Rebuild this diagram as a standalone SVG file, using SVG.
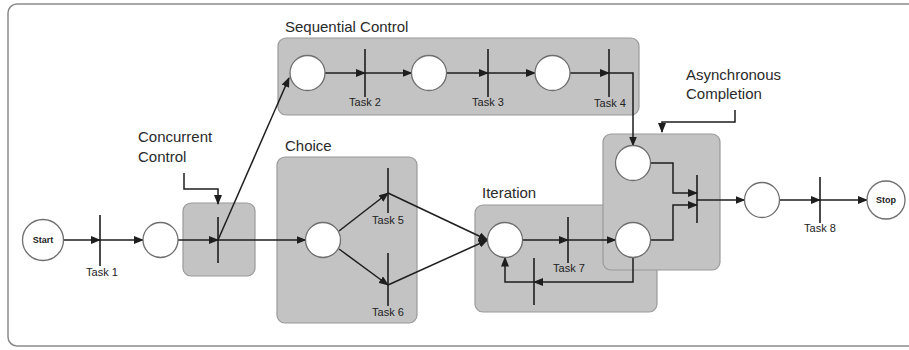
<svg xmlns="http://www.w3.org/2000/svg" width="909" height="350" viewBox="0 0 909 350">
  <style>
    .frame { fill: #ffffff; stroke: #8a8a8a; stroke-width: 1.5; }
    .region { fill: #c3c3c3; stroke: #9a9a9a; stroke-width: 1.2; }
    .place { fill: #ffffff; stroke: #6e6e6e; stroke-width: 1.3; }
    .bar { stroke: #1e1e1e; stroke-width: 1.6; fill: none; }
    .edge { stroke: #1e1e1e; stroke-width: 1.5; fill: none; }
    .title { font-family: "Liberation Sans", Arial, sans-serif; font-size: 15px; fill: #2a2a2a; }
    .task { font-family: "Liberation Sans", Arial, sans-serif; font-size: 11px; fill: #222222; text-anchor: middle; }
    .term { font-family: "Liberation Sans", Arial, sans-serif; font-size: 9px; font-weight: bold; fill: #222222; text-anchor: middle; }
  </style>
  <defs>
    <marker id="arrow" markerWidth="10" markerHeight="8" refX="9" refY="4" orient="auto" markerUnits="userSpaceOnUse">
      <path d="M0,0 L10,4 L0,8 Z" fill="#1e1e1e"/>
    </marker>
  </defs>

  <!-- outer frame -->
  <rect class="frame" x="8" y="4" width="930" height="342" rx="9"/>

  <!-- control regions -->
  <g id="region-concurrent">
    <rect class="region" x="183" y="203" width="72" height="73" rx="8"/>
  </g>
  <g id="region-sequential">
    <rect class="region" x="278" y="38" width="361" height="77" rx="8"/>
    <text class="title" x="285" y="32">Sequential Control</text>
  </g>
  <g id="region-choice">
    <rect class="region" x="277" y="157" width="140" height="166" rx="8"/>
    <text class="title" x="285" y="151">Choice</text>
  </g>
  <g id="region-iteration">
    <rect class="region" x="475" y="205" width="182" height="107" rx="8"/>
    <text class="title" x="482" y="198">Iteration</text>
  </g>
  <g id="region-async">
    <rect class="region" x="603" y="134" width="117" height="136" rx="8"/>
  </g>

  <!-- callout labels -->
  <g id="label-concurrent">
    <text class="title" x="138" y="142">Concurrent</text>
    <text class="title" x="138" y="162">Control</text>
  </g>
  <g id="label-async">
    <text class="title" x="686" y="80">Asynchronous</text>
    <text class="title" x="686" y="99">Completion</text>
  </g>

  <!-- connectors -->
  <g id="connectors">
    <path class="edge" d="M184,173 V189 H218 V204" marker-end="url(#arrow)"/>
    <path class="edge" d="M735,110 V122 H662 V132" marker-end="url(#arrow)"/>

    <path class="edge" d="M63.5,240 H100" marker-end="url(#arrow)"/>
    <path class="edge" d="M100,240 H143" marker-end="url(#arrow)"/>
    <path class="edge" d="M178,240 H218" marker-end="url(#arrow)"/>
    <path class="edge" d="M218,240 L289,78" marker-end="url(#arrow)"/>
    <path class="edge" d="M218,240 H305.5" marker-end="url(#arrow)"/>

    <path class="edge" d="M325,73 H365" marker-end="url(#arrow)"/>
    <path class="edge" d="M365,73 H411.5" marker-end="url(#arrow)"/>
    <path class="edge" d="M446.5,73 H488" marker-end="url(#arrow)"/>
    <path class="edge" d="M488,73 H535" marker-end="url(#arrow)"/>
    <path class="edge" d="M570,73 H609" marker-end="url(#arrow)"/>
    <path class="edge" d="M609,73 H633 V145.5" marker-end="url(#arrow)"/>

    <path class="edge" d="M339,231 L388,193" marker-end="url(#arrow)"/>
    <path class="edge" d="M339,249 L388,285" marker-end="url(#arrow)"/>
    <path class="edge" d="M388,193 L487.5,240" marker-end="url(#arrow)"/>
    <path class="edge" d="M388,285 L487.5,240" marker-end="url(#arrow)"/>

    <path class="edge" d="M522.5,240 H568" marker-end="url(#arrow)"/>
    <path class="edge" d="M568,240 H615.5" marker-end="url(#arrow)"/>
    <path class="edge" d="M633,257.5 V282 H534" marker-end="url(#arrow)"/>
    <path class="edge" d="M534,282 H505 V257.5" marker-end="url(#arrow)"/>

    <path class="edge" d="M650.5,163 H673 V193 H697" marker-end="url(#arrow)"/>
    <path class="edge" d="M650.5,240 H673 V205 H697" marker-end="url(#arrow)"/>
    <path class="edge" d="M697,200 H744.5" marker-end="url(#arrow)"/>
    <path class="edge" d="M779.5,200 H820" marker-end="url(#arrow)"/>
    <path class="edge" d="M820,200 H867" marker-end="url(#arrow)"/>
  </g>

  <!-- places -->
  <g id="start">
    <circle class="place" cx="43" cy="240" r="20.5"/>
    <text class="term" x="43" y="243">Start</text>
  </g>
  <g id="p1"><circle class="place" cx="160.5" cy="240" r="17.5"/></g>
  <g id="p2"><circle class="place" cx="307.5" cy="73" r="17.5"/></g>
  <g id="p3"><circle class="place" cx="429" cy="73" r="17.5"/></g>
  <g id="p4"><circle class="place" cx="552.5" cy="73" r="17.5"/></g>
  <g id="p5"><circle class="place" cx="323" cy="240" r="17.5"/></g>
  <g id="p6"><circle class="place" cx="505" cy="240" r="17.5"/></g>
  <g id="p7"><circle class="place" cx="633" cy="163" r="17.5"/></g>
  <g id="p8"><circle class="place" cx="633" cy="240" r="17.5"/></g>
  <g id="p9"><circle class="place" cx="762" cy="200" r="17.5"/></g>
  <g id="stop">
    <circle class="place" cx="886" cy="200" r="19"/>
    <text class="term" x="886" y="203">Stop</text>
  </g>

  <!-- transitions -->
  <g id="task1">
    <line class="bar" x1="100" y1="215" x2="100" y2="266"/>
    <text class="task" x="102" y="276">Task 1</text>
  </g>
  <g id="fork">
    <line class="bar" x1="218" y1="217" x2="218" y2="263"/>
  </g>
  <g id="task2">
    <line class="bar" x1="365" y1="49" x2="365" y2="97"/>
    <text class="task" x="365" y="106">Task 2</text>
  </g>
  <g id="task3">
    <line class="bar" x1="488" y1="49" x2="488" y2="97"/>
    <text class="task" x="488" y="106">Task 3</text>
  </g>
  <g id="task4">
    <line class="bar" x1="609" y1="49" x2="609" y2="97"/>
    <text class="task" x="610" y="107">Task 4</text>
  </g>
  <g id="task5">
    <line class="bar" x1="388" y1="168" x2="388" y2="213"/>
    <text class="task" x="388" y="224">Task 5</text>
  </g>
  <g id="task6">
    <line class="bar" x1="388" y1="253" x2="388" y2="306"/>
    <text class="task" x="388" y="316">Task 6</text>
  </g>
  <g id="task7">
    <line class="bar" x1="568" y1="217" x2="568" y2="263"/>
    <text class="task" x="569" y="272">Task 7</text>
  </g>
  <g id="loop">
    <line class="bar" x1="534" y1="258" x2="534" y2="305"/>
  </g>
  <g id="join">
    <line class="bar" x1="697" y1="175" x2="697" y2="223"/>
  </g>
  <g id="task8">
    <line class="bar" x1="820" y1="177" x2="820" y2="223"/>
    <text class="task" x="820" y="232">Task 8</text>
  </g>
</svg>
